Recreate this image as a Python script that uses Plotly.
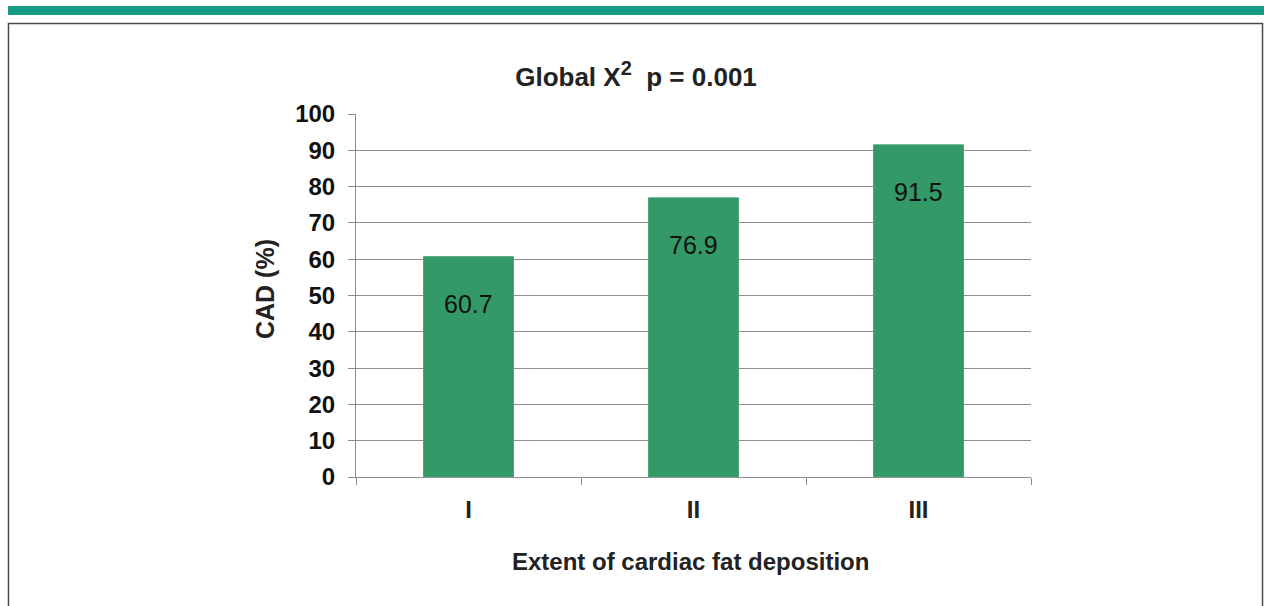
import plotly.graph_objects as go

categories = ["I", "II", "III"]
cad_percent = [60.7, 76.9, 91.5]
y_ticks = [0, 10, 20, 30, 40, 50, 60, 70, 80, 90, 100]

FONT = "Liberation Sans, Arial, sans-serif"
BAR = "#339966"
GRID = "#8e8e8e"

fig = go.Figure()
fig.add_trace(go.Bar(
    x=categories, y=cad_percent, width=0.4,
    marker=dict(color=BAR, line=dict(color="#4da37a", width=1)),
    hoverinfo="x+y",
))

for c, v in zip(categories, cad_percent):
    fig.add_annotation(x=c, y=v, xref="x", yref="y", text=f"{v:.1f}",
                       showarrow=False, yshift=-47,
                       font=dict(family=FONT, size=25, color="#111"))

# axis titles
fig.add_annotation(xref="paper", yref="paper", x=0.495, y=(477 - 561) / 363,
                   xanchor="center", yanchor="middle",
                   text="<b>Extent of cardiac fat deposition</b>", showarrow=False,
                   font=dict(family=FONT, size=24, color="#222"))
fig.add_annotation(xref="paper", yref="paper", x=(265 - 356) / 675, y=(477 - 289) / 363,
                   xanchor="center", yanchor="middle", textangle=-90,
                   text="<b>CAD (%)</b>", showarrow=False,
                   font=dict(family=FONT, size=25, color="#222"))

# decorative header band and frame
fig.add_shape(type="rect", xref="paper", yref="paper",
              x0=(8 - 356) / 675, x1=(1264 - 356) / 675,
              y0=(477 - 15) / 363, y1=(477 - 6) / 363,
              fillcolor="#179c84", line=dict(width=0), layer="above")
fig.add_shape(type="path", xref="paper", yref="paper",
              path=f"M {(8.5 - 356) / 675} {(477 - 620) / 363} L {(8.5 - 356) / 675} {(477 - 23.5) / 363} "
                   f"L {(1262.5 - 356) / 675} {(477 - 23.5) / 363} L {(1262.5 - 356) / 675} {(477 - 620) / 363}",
              line=dict(color="#4a4a4a", width=1.5), layer="above")

fig.update_layout(
    width=1264, height=606,
    margin=dict(l=356, r=233, t=114, b=129),
    paper_bgcolor="white", plot_bgcolor="white",
    showlegend=False,
    title=dict(text="<b>Global X<sup><span style='font-size:20px'>2</span></sup>  p = 0.001</b>",
               x=636 / 1264, xref="container",
               y=(606 - 77) / 606, yref="container", xanchor="center", yanchor="middle",
               font=dict(family=FONT, size=26, color="#222")),
    xaxis=dict(
        showgrid=False, showline=True, linecolor=GRID, linewidth=1,
        ticks="outside", tickson="boundaries", ticklen=7, tickcolor=GRID,
        tickfont=dict(family=FONT, size=24, color="#222"),
        ticklabelstandoff=11,
        tickmode="array", tickvals=categories, ticktext=[f"<b>{c}</b>" for c in categories],
    ),
    yaxis=dict(
        range=[0, 100], tickvals=y_ticks, ticktext=[f"<b>{t}</b>" for t in y_ticks],
        showgrid=True, gridcolor=GRID, gridwidth=1,
        showline=True, linecolor=GRID, linewidth=1, zeroline=False,
        ticks="outside", ticklen=7, tickcolor=GRID,
        tickfont=dict(family=FONT, size=24, color="#111"),
        ticklabelstandoff=8,
    ),
)

fig.write_html("out.html", config={"displayModeBar": False},
               post_script="document.body.style.margin='0';")
